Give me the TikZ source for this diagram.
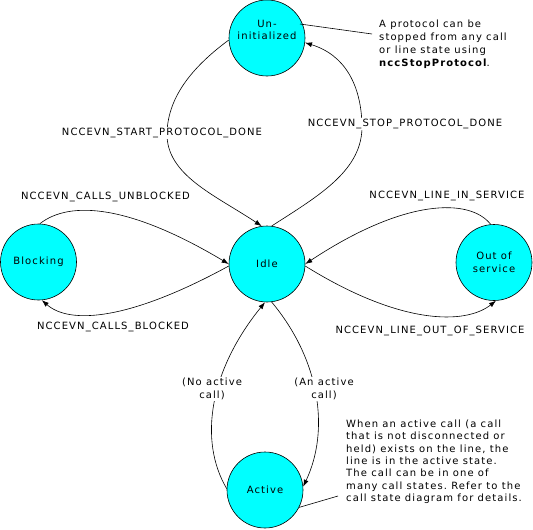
\documentclass[tikz,border=0pt]{standalone}
\usepackage{fontspec}
\setmainfont{DejaVu Sans}[LetterSpace=11]
\usetikzlibrary{arrows.meta}
\definecolor{statecyan}{RGB}{0,255,255}
\frenchspacing
\begin{document}
\begin{tikzpicture}[x=1pt,y=-1pt,
  font=\fontsize{10}{12.5}\selectfont,
  state/.style={circle,draw=black,fill=statecyan,minimum size=76pt,inner sep=0pt,line width=0.6pt,align=center},
  trans/.style={draw=black,line width=0.6pt,-{Latex[length=7pt,width=5pt]}},
  lbl/.style={fill=white,inner sep=1pt,align=center},
  note/.style={align=left,anchor=north west,inner sep=0pt},
  leader/.style={draw=black,line width=0.6pt}]
\useasboundingbox (0,0) rectangle (533,530);
% states
\node[state,label={[name=ut,align=center,yshift=8pt]center:Un-\\initialized}] (u) at (267,38) {};
\node[state] (i) at (267,264) {Idle};
\node[state] (b) at (38.5,262) {Blocking};
\node[state] (o) at (494,262.5) {Out of\\service};
\node[state] (a) at (265,490) {Active};
% transitions
\draw[trans] (u.183) .. controls (195,65) and (168,95) .. (167,133) .. controls (166,175) and (215,195) .. (i.98);
\draw[trans] (i.83) .. controls (320,195) and (363,170) .. (362,125) .. controls (361,85) and (345,55) .. (u.-7);
\draw[trans] (b.88) .. controls (70,200) and (130,205) .. (i.180);
\draw[trans] (i.183) .. controls (130,320) and (70,325) .. (b.-85);
\draw[trans] (o.95) .. controls (470,198) and (405,198) .. (i.0);
\draw[trans] (i.-3) .. controls (400,325) and (465,325) .. (o.-87);
\draw[trans] (a.178) .. controls (198,440) and (210,370) .. (i.-93);
\draw[trans] (i.-83) .. controls (320,360) and (330,430) .. (a.5);
% labels
\node[lbl] (l1) at (162,133) {NCCEVN\_START\_PROTOCOL\_DONE};
\node[lbl] (l2) at (405,124) {NCCEVN\_STOP\_PROTOCOL\_DONE};
\node[lbl] (l3) at (105.5,197) {NCCEVN\_CALLS\_UNBLOCKED};
\node[lbl] (l4) at (113,327) {NCCEVN\_CALLS\_BLOCKED};
\node[lbl] (l5) at (447,196) {NCCEVN\_LINE\_IN\_SERVICE};
\node[lbl] (l6) at (430,331) {NCCEVN\_LINE\_OUT\_OF\_SERVICE};
\node[lbl] (l7) at (212,389) {(No active\\call)};
\node[lbl] (l8) at (324,389) {(An active\\call)};
% notes
\node[note,font=\fontsize{10}{13}\selectfont] (n1) at (379,19.4) {A protocol can be\\stopped from any call\\or line state using\\\textbf{nccStopProtocol}.};
\node[note,font=\fontsize{10}{12.4}\selectfont] (n2) at (346,419.4) {When an active call (a call\\that is not disconnected or\\held) exists on the line, the\\line is in the active state.\\The call can be in one of\\many call states. Refer to the\\call state diagram for details.};
\coordinate (u1) at (300,24);
\coordinate (n1p) at (372,34);
\draw[leader] (u1) -- (n1p);
\coordinate (n2p) at (338,496);
\draw[leader] (a.-27) -- (n2p);
\end{tikzpicture}
\end{document}
